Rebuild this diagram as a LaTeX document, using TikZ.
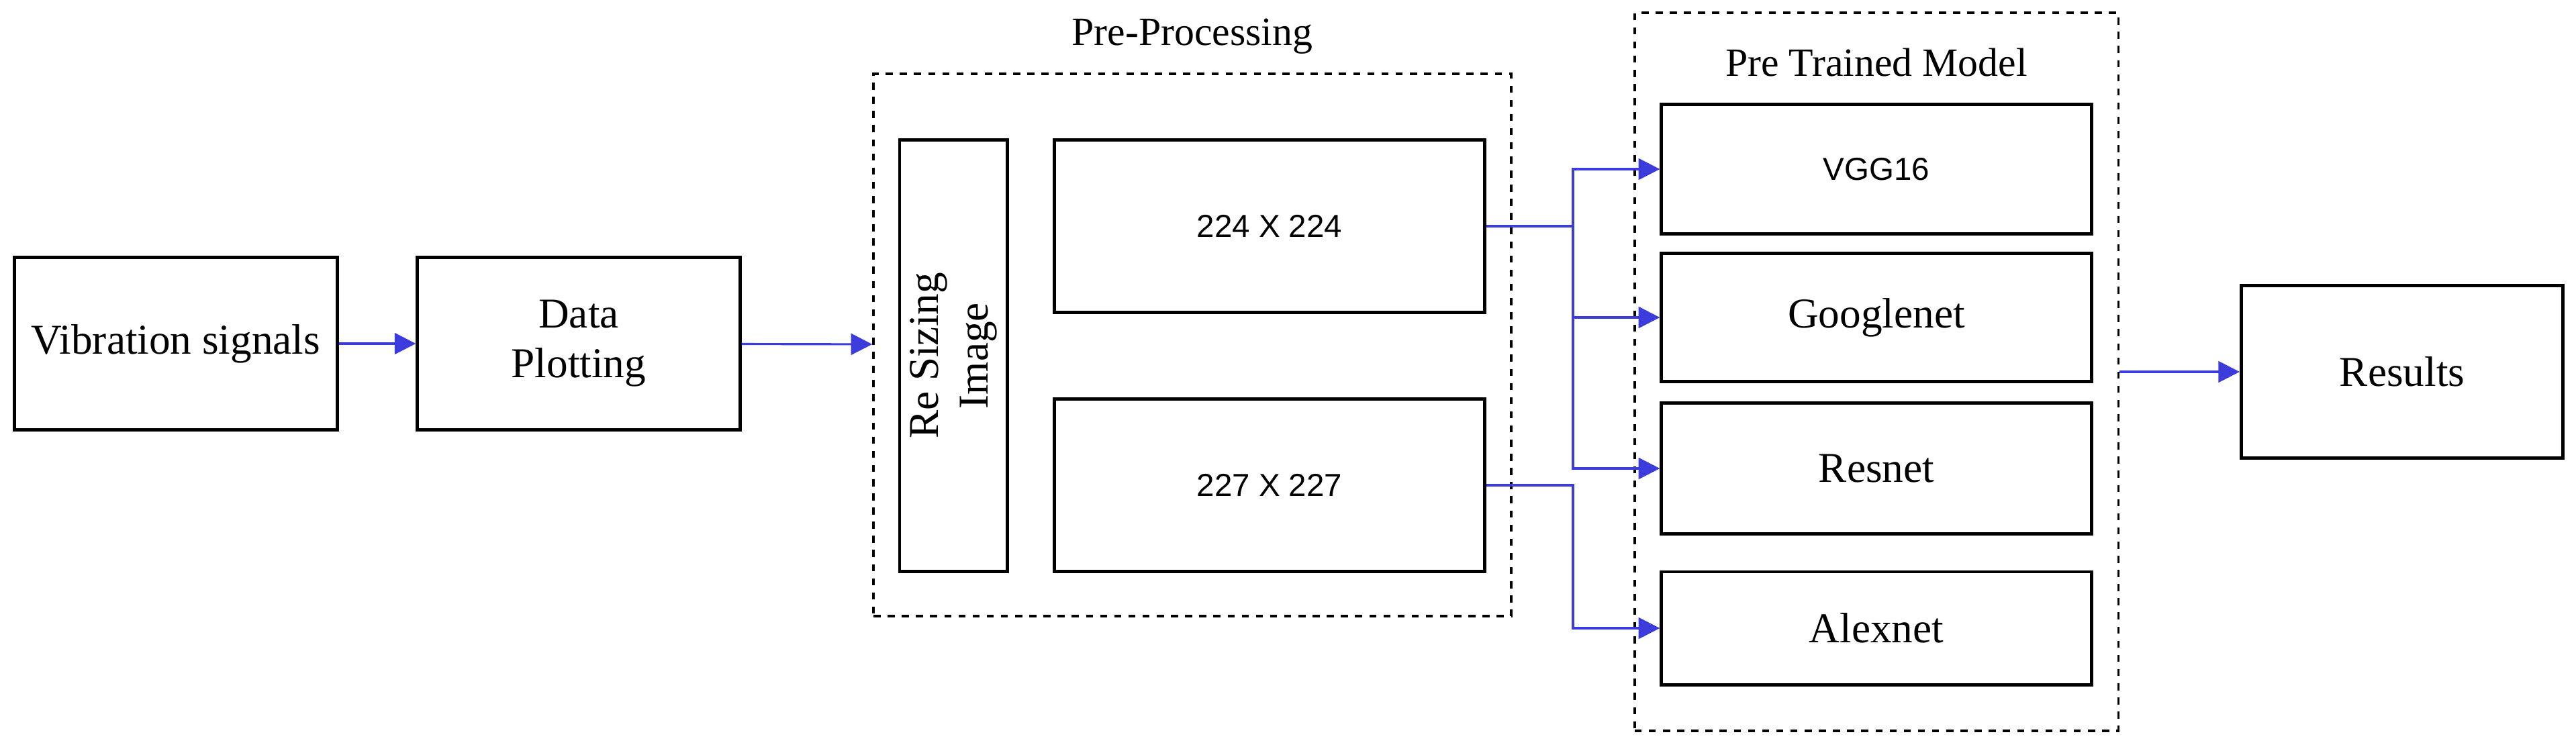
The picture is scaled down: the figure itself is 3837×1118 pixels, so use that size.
\documentclass[tikz,border=0pt]{standalone}
\usepackage{fontspec}
\setmainfont{Liberation Serif}
\newfontfamily\arialfont{Liberation Sans}
\usetikzlibrary{arrows.meta}
\definecolor{linkblue}{RGB}{60,60,220}

\begin{document}
\begin{tikzpicture}[x=0.01cm, y=-0.01cm,
  box/.style = {shape=rectangle, draw, line width=1.4pt, inner sep=0pt,
    align=center, font=\fontsize{18}{21}\selectfont},
  sansbox/.style = {box, font=\arialfont\fontsize{13.5}{16}\selectfont},
  group/.style = {shape=rectangle, draw, dashed, line width=1pt, inner sep=0pt},
  link/.style = {draw=linkblue, line width=0.9pt, -{Triangle[length=9pt,width=9pt]}},
  title/.style = {font=\fontsize{17}{20}\selectfont}]

  \useasboundingbox (0,0) rectangle (3837,1118);

  % groups
  \node[group, minimum width=950\pgflinewidth/\pgflinewidth*0.01cm, minimum height=8.08cm] (pre) at (1776,514) {};
  \node[title] (pretitle) at (1776,54) {Pre-Processing};
  \node[group, minimum width=7.2cm, minimum height=10.69cm] (ptm) at (2795,554) {};
  \node[title] (ptmtitle) at (2795,93) {Pre Trained Model};

  % boxes
  \node[box, minimum width=4.8cm, minimum height=2.57cm] (vib) at (262,512) {Vibration signals};
  \node[box, minimum width=4.8cm, minimum height=2.57cm] (plot) at (862,512) {Data\\Plotting};
  \node[box, minimum width=6.43cm, minimum height=1.6cm, rotate=90] (resize) at (1420,530) {Re Sizing\\Image};
  \node[sansbox, minimum width=6.41cm, minimum height=2.57cm] (s224) at (1891,337) {224 X 224};
  \node[sansbox, minimum width=6.41cm, minimum height=2.57cm] (s227) at (1891,723) {227 X 227};
  \node[sansbox, minimum width=6.4cm, minimum height=1.92cm] (vgg) at (2795,252) {VGG16};
  \node[box, minimum width=6.4cm, minimum height=1.9cm] (google) at (2795,473) {Googlenet};
  \node[box, minimum width=6.4cm, minimum height=1.94cm] (resnet) at (2795,698) {Resnet};
  \node[box, minimum width=6.4cm, minimum height=1.68cm] (alex) at (2795,936) {Alexnet};
  \node[box, minimum width=4.79cm, minimum height=2.57cm] (results) at (3578,554) {Results};

  \coordinate (bus1) at (2343,337);
  \coordinate (bus2) at (2343,723);

  % connectors
  \draw[link] (vib) -- (plot);
  \draw[link] (plot) -- (pre);
  \draw[link] (s224.east) -- (bus1) |- (vgg.west);
  \draw[link] (bus1) |- (google.west);
  \draw[link] (bus1) |- (resnet.west);
  \draw[link] (s227.east) -- (bus2) |- (alex.west);
  \draw[link] (ptm) -- (results);
\end{tikzpicture}
\end{document}
